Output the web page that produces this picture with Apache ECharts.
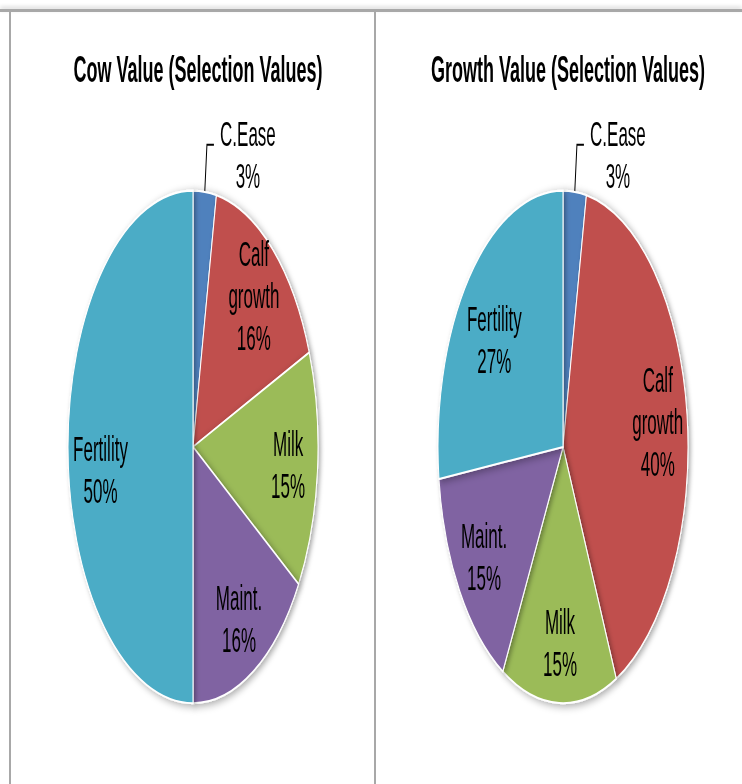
<!DOCTYPE html>
<html>
<head>
<meta charset="utf-8">
<script src="https://cdn.jsdelivr.net/npm/echarts@6/dist/echarts.min.js"></script>
<style>
	html, body { margin: 0; padding: 0; background: #fff; }
	#page { position: relative; width: 742px; height: 784px; overflow: hidden; }
	/* the original picture is stretched vertically, so the chart is drawn flat and stretched */
	#chart { position: absolute; left: 0; top: 0; width: 742px; height: 383px; transform: scaleY(2.05); transform-origin: 0 0; }
	.rule { position: absolute; background: #a8a8a8; }
</style>
</head>
<body>
<div id="page">
	<div id="chart"></div>
	<div class="rule" style="left:0; top:9px; width:742px; height:3px; box-shadow:0 -2px 4px rgba(0,0,0,0.18);"></div>
	<div class="rule" style="left:9px; top:12px; width:2px; height:772px;"></div>
	<div class="rule" style="left:374px; top:12px; width:2px; height:772px;"></div>
</div>
<script>
const categories = ['C.Ease', 'Calf growth', 'Milk', 'Maint.', 'Fertility'];
const cowValues = [3, 16, 15, 16, 50];
const growthValues = [3, 40, 15, 15, 27];
const sliceColors = ['#4F81BD', '#C0504D', '#9BBB59', '#8064A2', '#4BACC6'];
const chartTitles = ['Cow Value (Selection Values)', 'Growth Value (Selection Values)'];

const centers = [[193, 218], [563, 218]];
const R = 125;
const font = 'Liberation Sans, Arial, sans-serif';
const labelSize = 17;

const chart = echarts.init(document.getElementById('chart'), null, { renderer: 'svg' });

const buildData = (values, forLabels) => categories.map((name, i) => {
	const item = { name, value: values[i] };
	if (!forLabels) return item;
	if (name === 'C.Ease') {
		// small slice gets its label outside with a leader line
		item.label = {
			position: 'outside',
			padding: [10, 0, 0, 0],
			formatter: '{e|{b}}\n{e|{d}%}',
			rich: { e: { width: 58, align: 'center', fontFamily: font, fontSize: labelSize, lineHeight: 20.5, color: '#000' } }
		};
		item.labelLine = { show: true, length: 23, length2: 7, lineStyle: { color: '#000', width: 1 } };
	}
	if (name === 'Fertility') {
		// excel put this one a bit lower than the slice middle
		item.label = { offset: [3, 11] };
	}
	return item;
});

const pieSeries = (values, idx) => ([
	{
		type: 'pie',
		center: centers[idx],
		radius: [0, R],
		startAngle: 90,
		clockwise: true,
		silent: true,
		label: { show: false },
		labelLine: { show: false },
		itemStyle: {
			color: p => sliceColors[p.dataIndex],
			borderColor: '#fff',
			borderWidth: 1,
			shadowBlur: 4,
			shadowOffsetX: 2,
			shadowOffsetY: 1,
			shadowColor: 'rgba(0,0,0,0.35)'
		},
		data: buildData(values, false)
	},
	{
		// transparent ring only used to place the labels at ~0.74 of the radius
		type: 'pie',
		center: centers[idx],
		radius: [R * 0.48, R],
		startAngle: 90,
		clockwise: true,
		silent: true,
		avoidLabelOverlap: false,
		percentPrecision: 0,
		itemStyle: { color: 'transparent' },
		emphasis: { disabled: true },
		label: {
			show: true,
			position: 'inside',
			color: '#000',
			fontFamily: font,
			fontSize: labelSize,
			lineHeight: 20.5,
			formatter: p => p.name.replace(' ', '\n') + '\n' + p.percent + '%'
		},
		labelLine: { show: false },
		data: buildData(values, true)
	}
]);

const options = {
	animation: false,
	title: chartTitles.map((text, i) => ({
		text,
		left: centers[i][0],
		top: 20,
		textAlign: 'center',
		textStyle: { fontFamily: font, fontSize: 18, fontWeight: 'bold', color: '#000' }
	})),
	series: [...pieSeries(cowValues, 0), ...pieSeries(growthValues, 1)]
};

chart.setOption(options);
</script>
</body>
</html>
